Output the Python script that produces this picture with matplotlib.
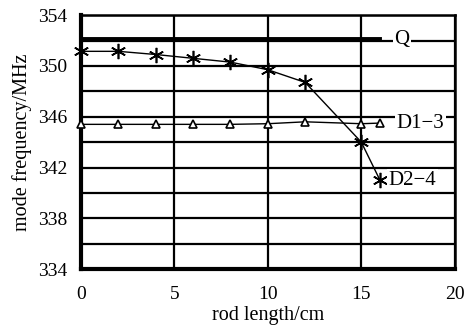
import matplotlib.pyplot as plt

plt.rcParams['font.family'] = ['Liberation Serif', 'DejaVu Serif']

# rod length (cm)
x_q = [0, 16]
q_freq = [352.15, 352.15]

x_d13 = [0, 2, 4, 6, 8, 10, 12, 15, 16]
d13_freq = [345.4, 345.4, 345.4, 345.4, 345.4, 345.45, 345.6, 345.45, 345.5]

x_d24 = [0, 2, 4, 6, 8, 10, 12, 15, 16]
d24_freq = [351.15, 351.15, 350.9, 350.6, 350.3, 349.7, 348.7, 344.0, 341.0]

xticks = [0, 5, 10, 15, 20]
yticks = [334, 338, 342, 346, 350, 354]

fig = plt.figure(figsize=(4.65, 3.29), dpi=100)
ax = fig.add_axes([0.174, 0.182, 0.804, 0.772])

ax.set_xlim(0, 20)
ax.set_ylim(334, 354)
ax.set_xticks(xticks)
ax.set_yticks(yticks)
ax.set_yticks(range(334, 355, 2), minor=True)
ax.grid(True, which='both', axis='y', color='black', linewidth=1.6)
ax.grid(True, which='major', axis='x', color='black', linewidth=1.6)
ax.tick_params(which='both', length=0, labelsize=14)
ax.tick_params(axis='x', pad=12)
ax.tick_params(axis='y', pad=10)

for s in ax.spines.values():
    s.set_linewidth(1.8)
ax.spines['left'].set_linewidth(3)
ax.spines['bottom'].set_linewidth(3)

ax.plot(x_q, q_freq, color='black', linewidth=2.8, zorder=3)
ax.plot(x_d13, d13_freq, color='black', linewidth=1, marker='^',
        markersize=6, markerfacecolor='white', markeredgewidth=1.2, zorder=4, clip_on=False)
ax.plot(x_d24, d24_freq, color='black', linewidth=1, marker=(6, 2, 0),
        markersize=11, markeredgewidth=1.2, zorder=4, clip_on=False)

box = dict(facecolor='white', edgecolor='none', pad=1)
ax.text(16.75, 352.1, 'Q', fontsize=15, va='center', ha='left', bbox=box, zorder=5)
ax.text(16.9, 345.45, 'D1\u22123', fontsize=15, va='center', ha='left', bbox=box, zorder=5)
ax.text(16.45, 341.0, 'D2\u22124', fontsize=15, va='center', ha='left', bbox=box, zorder=5)

ax.set_xlabel('rod length/cm', fontsize=14.5, labelpad=2)
ax.set_ylabel('mode frequency/MHz', fontsize=14.5, labelpad=4)

fig.savefig('out.png', dpi=100)
